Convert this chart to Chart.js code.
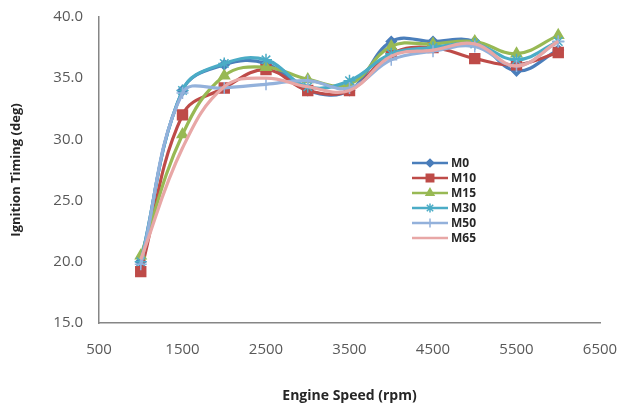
<!DOCTYPE html>
<html>
<head>
<meta charset="utf-8">
<script src="https://cdn.jsdelivr.net/npm/chart.js"></script>
<style>
html,body{margin:0;padding:0;background:#fff;}
#wrap{width:630px;height:406px;position:relative;}
</style>
</head>
<body>
<div id="wrap"><canvas id="c" width="630" height="406"></canvas></div>
<script>
const speeds = [1000, 1500, 2000, 2500, 3000, 3500, 4000, 4500, 5000, 5500, 6000];
const M0  = [20.0, 34.0, 36.1, 36.2, 34.0, 34.0, 38.0, 38.0, 38.0, 35.6, 37.3];
const M10 = [19.2, 32.0, 34.2, 35.7, 34.0, 34.0, 37.0, 37.5, 36.6, 36.1, 37.1];
const M15 = [20.5, 30.4, 35.2, 35.9, 34.9, 34.5, 37.6, 37.8, 38.0, 37.0, 38.5];
const M30 = [20.0, 34.0, 36.2, 36.5, 34.3, 34.8, 37.0, 37.5, 37.8, 36.5, 38.0];
const M50 = [19.8, 33.8, 34.2, 34.5, 34.8, 34.2, 36.5, 37.2, 37.6, 36.0, 38.0];
const M65 = [20.2, 29.3, 34.3, 35.0, 34.3, 34.0, 36.8, 37.3, 37.8, 36.0, 38.0];
const seriesNames = ['M0', 'M10', 'M15', 'M30', 'M50', 'M65'];
const xTicks = [500, 1500, 2500, 3500, 4500, 5500, 6500];
const yTicks = [15, 20, 25, 30, 35, 40];

const allSeries = [M0, M10, M15, M30, M50, M65];
const colors = ['#4A7EBB', '#BE4B48', '#98B954', '#4BACC6', '#93B1DB', '#E8A7A6'];
const styles = ['rectRot', 'rect', 'triangle', 'star', 'cross', false];
const radii = [5, 7, 6, 6, 6, 0];

const datasets = allSeries.map((vals, i) => ({
  label: seriesNames[i],
  data: speeds.map((s, k) => ({x: s, y: vals[k]})),
  borderColor: colors[i],
  backgroundColor: colors[i],
  pointBackgroundColor: colors[i],
  pointBorderColor: colors[i],
  pointStyle: styles[i] || 'circle',
  pointRadius: radii[i],
  pointBorderWidth: 1.5,
  borderWidth: 3.2,
  tension: 0.4,
  order: 5 - i
}));

const legendPlugin = {
  id: 'customLegend',
  afterDraw(chart) {
    const ctx = chart.ctx;
    ctx.save();
    const x0 = 412, x1 = 448, y0 = 163, step = 15;
    seriesNames.forEach((name, i) => {
      const y = y0 + i * step;
      ctx.strokeStyle = colors[i];
      ctx.lineWidth = 2.5;
      ctx.beginPath();
      ctx.moveTo(x0, y);
      ctx.lineTo(x1, y);
      ctx.stroke();
      if (styles[i] && Chart.helpers && Chart.helpers.drawPoint) {
        ctx.fillStyle = colors[i];
        ctx.strokeStyle = colors[i];
        ctx.lineWidth = 1.5;
        Chart.helpers.drawPoint(ctx, {pointStyle: styles[i], radius: radii[i] * 0.75, borderWidth: 1.5}, (x0 + x1) / 2, y);
      }
      ctx.fillStyle = '#262626';
      ctx.font = 'bold 12px "Open Sans", sans-serif';
      ctx.textBaseline = 'middle';
      ctx.textAlign = 'left';
      ctx.fillText(name, 451, y + 1);
    });
    ctx.restore();
  }
};

new Chart(document.getElementById('c'), {
  type: 'line',
  data: { datasets },
  options: {
    responsive: false,
    animation: false,
    events: [],
    layout: { padding: { left: 8, right: 30, top: 17, bottom: 2 } },
    plugins: { legend: { display: false }, tooltip: { enabled: false } },
    scales: {
      x: {
        type: 'linear',
        min: 500, max: 6500,
        afterBuildTicks(scale) { scale.ticks = xTicks.map(v => ({value: v})); },
        grid: { display: false, drawTicks: false },
        border: { display: true, color: '#868686', width: 1.5 },
        ticks: { color: '#595959', font: { family: '"Open Sans", sans-serif', size: 15 }, padding: 18, maxRotation: 0, callback: v => String(v) },
        title: { display: true, text: 'Engine Speed (rpm)', color: '#262626', font: { family: '"Open Sans", sans-serif', size: 14, weight: 'bold' }, padding: { top: 0, bottom: 0 } },
        afterFit(scale) { scale.height = 81; scale.paddingRight = 0; scale.paddingLeft = 0; }
      },
      y: {
        min: 15, max: 40,
        afterBuildTicks(scale) { scale.ticks = yTicks.map(v => ({value: v})); },
        grid: { display: false, drawTicks: false },
        border: { display: true, color: '#868686', width: 1.5 },
        ticks: { color: '#595959', font: { family: '"Open Sans", sans-serif', size: 15 }, padding: 16, callback: v => Number(v).toFixed(1) },
        title: { display: true, text: 'Ignition Timing (deg)', color: '#262626', font: { family: '"Open Sans", sans-serif', size: 13, weight: 'bold' }, padding: { top: 0, bottom: 0 } },
        afterFit(scale) { scale.width = 91; scale.paddingTop = 0; scale.paddingBottom = 0; }
      }
    }
  },
  plugins: [legendPlugin]
});
</script>
</body>
</html>
